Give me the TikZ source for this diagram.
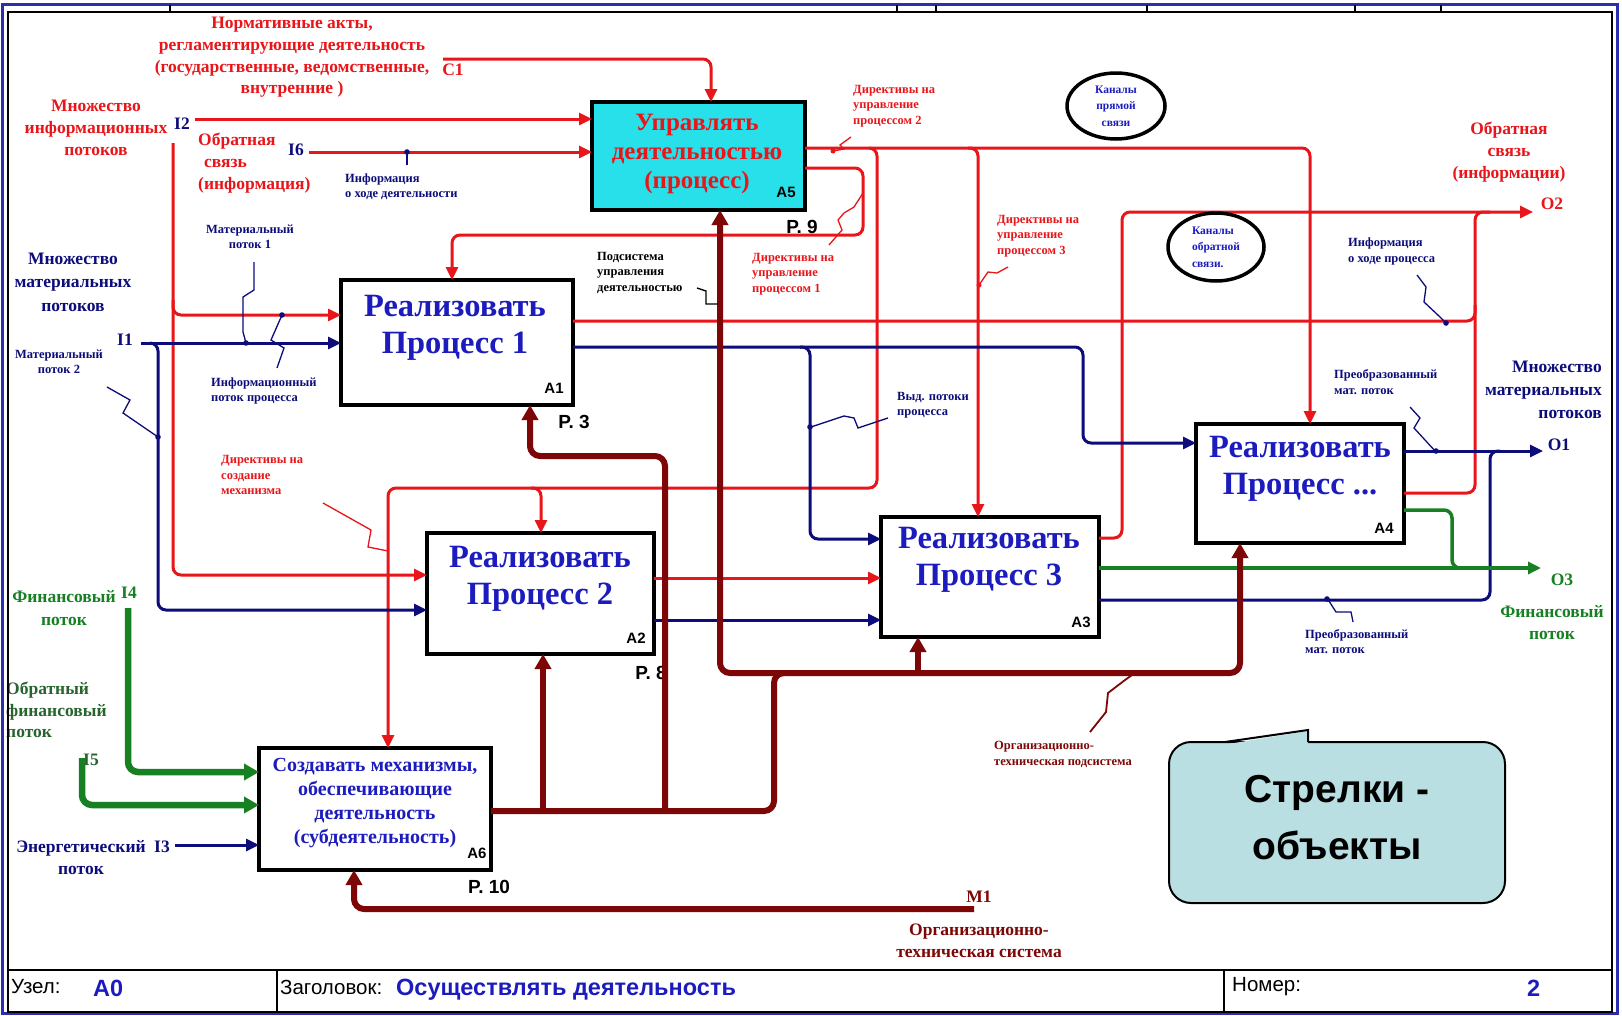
\documentclass[tikz,border=0pt]{standalone}
\usepackage{fontspec}
\setmainfont{Liberation Serif}
\newfontfamily\sansf{Liberation Sans}
\usetikzlibrary{arrows.meta,shapes.geometric}
\definecolor{cred}{RGB}{232,22,26}
\definecolor{cnavy}{RGB}{12,12,122}
\definecolor{cblue}{RGB}{28,28,190}
\definecolor{cgreen}{RGB}{22,128,34}
\definecolor{cdgreen}{RGB}{40,100,45}
\definecolor{cmar}{RGB}{125,6,6}
\definecolor{ccyan}{RGB}{40,224,234}
\definecolor{ccall}{RGB}{186,223,226}
\definecolor{cframe}{RGB}{45,45,175}
\begin{document}
\begin{tikzpicture}[x=1pt,y=-1pt,
  box/.style={draw=black, line width=3.5pt, inner sep=0pt, outer sep=0pt, fill=white},
  btxt/.style={font=\fontsize{32.5}{37}\selectfont\bfseries, text=cblue, align=center, inner sep=0pt},
  bid/.style={font=\sansf\fontsize{15}{15}\selectfont\bfseries, inner sep=0pt},
  pref/.style={font=\sansf\fontsize{19}{19}\selectfont\bfseries, inner sep=0pt},
  lbig/.style={font=\fontsize{17.5}{21.7}\selectfont\bfseries, align=center, inner sep=0pt},
  lsm/.style={font=\fontsize{12.5}{15.5}\selectfont\bfseries, align=left, inner sep=0pt},
  redl/.style={draw=cred, line width=3pt, rounded corners=8pt},
  navl/.style={draw=cnavy, line width=3pt, rounded corners=8pt},
  grnl/.style={draw=cgreen, line width=3.5pt, rounded corners=8pt},
  grnt/.style={draw=cgreen, line width=6.5pt, rounded corners=10pt},
  marl/.style={draw=cmar, line width=6pt, rounded corners=10pt},
  arr/.style={-{Triangle[length=13pt,width=12pt]}},
  arrb/.style={-{Triangle[length=15pt,width=16pt]}},
  squig/.style={line width=1.3pt},
  tb/.style={font=\sansf\fontsize{20.5}{20.5}\selectfont, inner sep=0pt, anchor=west},
  tbb/.style={font=\sansf\fontsize{23.5}{23.5}\selectfont\bfseries, text=cblue, inner sep=0pt, anchor=west},
  ell/.style={ellipse, draw=black, line width=3.5pt, inner sep=0pt,
     font=\fontsize{11.5}{16.5}\selectfont\bfseries, text=cblue, align=center}
]
\useasboundingbox (0,0) rectangle (1622,1015);
\fill[white] (0,0) rectangle (1622,1015);

% ---------- boxes ----------
\node[box, fill=ccyan, minimum width=213pt, minimum height=108pt] (A5) at (698.5,156) {};
\node[box, minimum width=232pt, minimum height=125pt] (A1) at (457,342.5) {};
\node[box, minimum width=227pt, minimum height=121pt] (A2) at (540.5,593.5) {};
\node[box, minimum width=218pt, minimum height=120pt] (A3) at (990,577) {};
\node[box, minimum width=208pt, minimum height=119pt] (A4) at (1300,483.5) {};
\node[box, minimum width=232pt, minimum height=122pt] (A6) at (375,809) {};

% label under maroon line
\node[pref] (p8) at (651,673) {P. 8};

% ---------- free ends ----------
\coordinate (c1s) at (443,59);
\coordinate (i2a) at (195,119);
\coordinate (i2b) at (173,143);
\coordinate (i6a) at (309,152);
\coordinate (i1a) at (141,343);
\coordinate (i3a) at (175,845);
\coordinate (i4a) at (128,608);
\coordinate (i5a) at (82,758);
\coordinate (m1) at (974,909);
\coordinate (o1) at (1543,451);
\coordinate (o2) at (1533,212);
\coordinate (o3) at (1541,568);

% ---------- red ----------
\draw[redl,arr] (c1s) -- (711,59) -- (711,0 |- A5.north);
\draw[redl,arr] (i2a) -- (A5.west |- i2a);
\draw[redl,arr] (i6a) -- (A5.west |- i6a);
\draw[redl,arr] (i2b) -- (173,575) -- (A2.west |- 0,575);
\draw[redl,arr] (173,300) -- (173,315) -- (A1.west |- 0,315);
\draw[redl,arr] (A5.east |- 0,148) -- (1310,148) -- (1310,0 |- A4.north);
\draw[redl,arr] (869,148) -- (877,148) -- (877,488) -- (388,488) -- (388,0 |- A6.north);
\draw[redl,arr] (531,488) -- (541,488) -- (541,0 |- A2.north);
\draw[redl,arr] (968,148) -- (978,148) -- (978,0 |- A3.north);
\draw[redl,arr] (A5.east |- 0,168) -- (863,168) -- (863,235) -- (452,235) -- (452,0 |- A1.north);
\draw[redl] (A1.east |- 0,321) -- (1475,321) -- (1475,305);
\draw[redl] (A4.east |- 0,493) -- (1475,493) -- (1475,212) -- (1490,212);
\draw[redl,arr] (A3.east |- 0,538) -- (1122,538) -- (1122,212) -- (o2);
\draw[redl,arr] (A2.east |- 0,578) -- (A3.west |- 0,578);

% ---------- navy ----------
\draw[navl,arr] (i1a) -- (A1.west |- i1a);
\draw[navl,arr] (150,343) -- (158,343) -- (158,610) -- (A2.west |- 0,610);
\draw[navl,arr] (A1.east |- 0,347) -- (1083,347) -- (1083,443) -- (A4.west |- 0,443);
\draw[navl,arr] (800,347) -- (810,347) -- (810,539) -- (A3.west |- 0,539);
\draw[navl,arr] (A2.east |- 0,620) -- (A3.west |- 0,620);
\draw[navl,arr] (A4.east |- 0,451) -- (o1);
\draw[navl] (A3.east |- 0,600) -- (1490,600) -- (1490,451) -- (1500,451);
\draw[navl,arr] (i3a) -- (A6.west |- i3a);

% ---------- green ----------
\draw[grnt,arrb] (i4a) -- (128,772) -- (A6.west |- 0,772);
\draw[grnt,arrb] (i5a) -- (82,805) -- (A6.west |- 0,805);
\draw[grnl,arr] (A3.east |- 0,568) -- (o3);
\draw[grnl] (A4.east |- 0,510) -- (1452,510) -- (1452,568) -- (1465,568);

% ---------- maroon ----------
\draw[marl,arrb] (A6.east |- 0,811) -- (774,811) -- (774,673) -- (1240,673) -- (1240,0 |- A4.south);
\draw[marl,arrb] (784,673) -- (720,673) -- (720,0 |- A5.south);
\draw[marl,arrb] (918,673) -- (918,0 |- A3.south);
\draw[marl,arrb] (543,811) -- (543,0 |- A2.south);
\draw[marl,arrb] (665,811) -- (665,456) -- (530,456) -- (530,0 |- A1.south);
\draw[marl,arrb] (m1) -- (354,909) -- (354,0 |- A6.south);

% ---------- leader squiggles ----------
\draw[squig,cnavy] (407,152) -- (407,165); \fill[cnavy] (407,152) circle (2.8pt);
\draw[squig,cnavy] (254,262) -- (254,290) -- (243,297) -- (243,332) -- (246,343); \fill[cnavy] (246,343) circle (2.8pt);
\draw[squig,cnavy] (282,315) -- (271,340) -- (284,348) -- (277,368); \fill[cnavy] (282,315) circle (2.8pt);
\draw[squig,cnavy] (107,387) -- (130,400) -- (123,413) -- (158,437); \fill[cnavy] (158,437) circle (2.8pt);
\draw[squig,cred] (323,503) -- (371,530) -- (368,547) -- (388,551);
\draw[squig,cred] (851,137) -- (840,145) -- (844,149) -- (833,151); \fill[cred] (833,151) circle (2.5pt);
\draw[squig,cred] (829,245) -- (842,230) -- (838,220) -- (844,213) -- (854,207) -- (863,193);
\draw[squig,cred] (1008,267) -- (997,273) -- (988,272) -- (979,285); \fill[cred] (979,285) circle (2.5pt);
\draw[squig,black] (697,288) -- (706,291) -- (706,304) -- (718,304);
\draw[squig,cnavy] (888,418) -- (858,428) -- (854,418) -- (844,416) -- (811,427); \fill[cnavy] (810,427) circle (2.8pt);
\draw[squig,cnavy] (1417,275) -- (1426,287) -- (1424,302) -- (1440,317) -- (1446,323); \fill[cnavy] (1446,323) circle (2.8pt);
\draw[squig,cnavy] (1410,407) -- (1420,418) -- (1414,428) -- (1436,452); \fill[cnavy] (1436,451) circle (2.8pt);
\draw[squig,cnavy] (1327,598) -- (1336,612) -- (1351,612) -- (1353,622); \fill[cnavy] (1327,599) circle (2.8pt);
\draw[squig,cmar,line width=1.8pt] (1090,732) -- (1106,712) -- (1108,693) -- (1125,680) -- (1132,675);

% ---------- box texts ----------
\node[font=\fontsize{25}{29}\selectfont\bfseries, text=cred, align=center, inner sep=0pt] (A5t) at (697,154) {Управлять\\деятельностью\\(процесс)};
\node[btxt] (A1t) at (455,328) {Реализовать\\Процесс 1};
\node[btxt] (A2t) at (540,579) {Реализовать\\Процесс 2};
\node[btxt] (A3t) at (989,560) {Реализовать\\Процесс 3};
\node[btxt] (A4t) at (1300,469) {Реализовать\\Процесс ...};
\node[font=\fontsize{20}{24}\selectfont\bfseries, text=cblue, align=center, inner sep=0pt] (A6t) at (375,803) {Создавать механизмы,\\обеспечивающие\\деятельность\\(субдеятельность)};
\node[bid] (A5i) at (786,192) {A5};
\node[bid] (A1i) at (554,388) {A1};
\node[bid] (A2i) at (636,638) {A2};
\node[bid] (A3i) at (1081,622) {A3};
\node[bid] (A4i) at (1384,528) {A4};
\node[bid] (A6i) at (477,853) {A6};
\node[pref] (p3) at (574,422) {P. 3};
\node[pref] (p9) at (802,227) {P. 9};
\node[pref] (p10) at (489,887) {P. 10};

% ---------- labels ----------
\node[lbig,text=cred] (lnorm) at (292,57.5) {Нормативные акты,\\регламентирующие деятельность\\(государственные, ведомственные,\\внутренние )};
\node[lbig,text=cred] (lc1) at (453,70) {C1};
\node[lbig,text=cred] (linf) at (96,128) {Множество\\информационных\\потоков};
\node[lbig,text=cnavy] (li2) at (182,124) {I2};
\node[lbig,text=cred,align=left,anchor=west] (lfb) at (198,163) {Обратная\\\hspace*{6pt}связь\\(информация)};
\node[lbig,text=cnavy] (li6) at (296,150) {I6};
\node[lsm,text=cnavy,anchor=west] (lhd) at (345,186.5) {Информация\\о ходе деятельности};
\node[lbig,text=cnavy,font=\fontsize{17.5}{23.5}\selectfont\bfseries] (lmat) at (73,282) {Множество\\материальных\\потоков};
\node[lsm,text=cnavy,align=center] (lm1) at (250,237) {Материальный\\поток 1};
\node[lbig,text=cnavy] (li1) at (125,340) {I1};
\node[lsm,text=cnavy,align=center] (lm2) at (59,362) {Материальный\\поток 2};
\node[lsm,text=cnavy,anchor=west] (lip) at (211,391) {Информационный\\поток процесса};
\node[lsm,text=cred,anchor=west] (ldm) at (221,475) {Директивы на\\создание\\механизма};
\node[lbig,text=cgreen,font=\fontsize{17.5}{23}\selectfont\bfseries] (lfin) at (64,608) {Финансовый\\поток};
\node[lbig,text=cgreen] (li4) at (129,593) {I4};
\node[lbig,text=cdgreen,align=left,anchor=west] (lofin) at (6,710) {Обратный\\финансовый\\поток};
\node[lbig,text=cdgreen] (li5) at (91,760) {I5};
\node[lbig,text=cnavy] (len) at (81,857.5) {Энергетический\\поток};
\node[lbig,text=cnavy] (li3) at (162,847) {I3};
\node[lbig,text=cmar] (lm1l) at (979,897) {M1};
\node[lbig,text=cmar] (lots) at (979,941) {Организационно-\\техническая система};
\node[lsm,text=cmar,anchor=west] (lotp) at (994,754.5) {Организационно-\\техническая подсистема};
\node[lsm,text=cnavy,anchor=west] (lpr1) at (1305,641.5) {Преобразованный\\мат. поток};
\node[lbig,text=cgreen] (lfin2) at (1552,622.5) {Финансовый\\поток};
\node[lbig,text=cgreen] (lo3) at (1562,580) {O3};
\node[lbig,text=cnavy] (lo1) at (1559,445) {O1};
\node[lbig,text=cnavy,align=right,anchor=east,font=\fontsize{17.5}{23}\selectfont\bfseries] (lmat2) at (1602,390) {Множество\\материальных\\потоков};
\node[lsm,text=cnavy,anchor=west] (lpr2) at (1334,382) {Преобразованный\\мат. поток};
\node[lsm,text=cnavy,anchor=west] (lvyd) at (897,405) {Выд. потоки\\процесса};
\node[lsm,text=cnavy,anchor=west] (lhp) at (1348,251.5) {Информация\\о ходе процесса};
\node[lbig,text=cred] (lfb2) at (1509,152) {Обратная\\связь\\(информации)};
\node[lbig,text=cred] (lo2) at (1552,204) {O2};
\node[lsm,text=cred,anchor=west] (ld3) at (997,236) {Директивы на\\управление\\процессом 3};
\node[lsm,text=cred,anchor=west] (ld2) at (853,106) {Директивы на\\управление\\процессом 2};
\node[lsm,text=cred,anchor=west] (ld1) at (752,274) {Директивы на\\управление\\процессом 1};
\node[lsm,text=black,anchor=west] (lpu) at (597,272.5) {Подсистема\\управления\\деятельностью};

% ---------- ellipses ----------
\node[ell, minimum width=98pt, minimum height=66pt] (e1) at (1116,106) {Каналы\\прямой\\связи};
\node[ell, minimum width=96pt, minimum height=68pt, align=left] (e2) at (1216,247) {Каналы\\обратной\\связи.};

% ---------- callout ----------
\node[draw=black, line width=2pt, fill=ccall, rounded corners=22pt, minimum width=336pt, minimum height=161pt, inner sep=0pt] (call) at (1337,822.5) {};
\fill[ccall] (1225,744.5) -- (1308,731) -- (1308,744.5) -- cycle;
\draw[line width=2pt, line join=miter] (1225,742) -- (1308,730) -- (1308,742);
\node[font=\sansf\fontsize{39}{57}\selectfont\bfseries, align=center, inner sep=0pt] (callt) at (1337,818) {Стрелки -\\объекты};

% ---------- frame ----------
\draw[cframe, line width=3pt] (2.5,4) rectangle (1617,1013.5);
\draw[black, line width=1.8pt] (8,12) -- (1612,12) -- (1612,1012) -- (8,1012) -- cycle;
\foreach \x in {170,897,936,1147,1355,1441} \draw[line width=1.5pt] (\x,5) -- (\x,12);
\draw[line width=1.8pt] (8,970) -- (1612,970);
\draw[line width=1.8pt] (277,970) -- (277,1012);
\draw[line width=1.8pt] (1224,970) -- (1224,1012);
\node[tb] (tuz) at (11,987) {Узел:};
\node[tbb] (ta0) at (93,988) {A0};
\node[tb] (tzag) at (280,987) {Заголовок:};
\node[tbb] (ttitle) at (396,990) {Осуществлять деятельность};
\node[tb] (tnom) at (1232,987) {Номер:};
\node[tbb] (tn2) at (1527,988) {2};
\end{tikzpicture}
\end{document}
